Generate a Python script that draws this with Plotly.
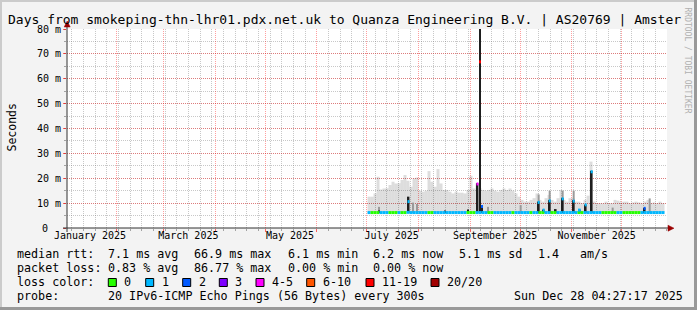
import plotly.graph_objects as go
import pandas as pd

# ---------------- data ----------------
axis_start = "2025-01-02 04:27:17"
axis_end = "2025-12-28 04:27:17"

# regular consolidated columns (1.8 days each) starting here
col_first = "2025-07-02 09:20"
col_hours = 43.2

# light smoke top (ms) per column
smoke_top = [12.6, 12.6, 13.9, 20.6, 15.5, 15.9, 16.0, 17.3, 18.6, 17.9,
             18.0, 19.3, 21.3, 19.0, 16.6, 19.9, 20.3, 15.0, 14.6, 15.0,
             22.9, 18.6, 16.6, 23.7, 17.9, 15.3, 15.3, 14.6, 13.9, 14.6,
             14.2, 14.2, 13.9, 15.3, 21.0, 15.9, 18.0, 16.0, 15.3, 15.0,
             15.3, 15.9, 15.0, 14.6, 15.3, 15.9, 15.3, 15.9, 15.0, 13.9,
             12.6, 11.3, 10.6, 10.6, 11.3, 12.0, 13.9, 11.3, 10.6, 12.0,
             13.3, 11.3, 10.6, 12.0, 15.3, 11.3, 10.6, 12.0, 12.0, 10.6,
             10.6, 10.0, 11.3, 13.0, 26.7, 10.6, 10.0, 10.0, 9.9, 10.6,
             10.0, 10.0, 11.3, 11.0, 10.3, 10.6, 10.6, 10.0, 10.3, 10.6,
             10.3, 10.0, 10.6, 11.3, 10.0, 10.3, 10.0, 10.6, 10.0]

# median rtt (ms) per column
median = [6.2, 6.2, 6.2, 6.2, 6.2, 6.2, 6.2, 6.2, 6.2, 6.2,
          6.2, 6.2, 6.2, 6.3, 6.2, 6.2, 6.2, 6.2, 6.2, 6.2,
          6.2, 6.2, 6.2, 6.2, 6.2, 6.2, 6.2, 6.2, 6.2, 6.2,
          6.2, 6.2, 6.2, 6.2, 6.2, 6.2, 6.2, 6.2, 6.2, 6.2,
          6.2, 6.2, 6.2, 6.2, 6.2, 6.2, 6.2, 6.2, 6.2, 6.2,
          6.2, 6.2, 6.2, 6.2, 6.2, 6.2, 6.2, 6.2, 6.2, 6.2,
          6.2, 6.2, 6.2, 6.2, 6.2, 6.2, 6.2, 6.2, 6.2, 6.2,
          6.2, 6.2, 6.2, 6.2, 6.2, 6.2, 6.2, 6.2, 6.2, 6.2,
          6.2, 6.2, 6.2, 6.2, 6.2, 6.2, 6.2, 6.2, 6.2, 6.2,
          6.2, 6.2, 6.2, 6.2, 6.2, 6.2, 6.2, 6.2, 6.2]

# lost pings (of 20) per column
loss = [1, 0, 0, 0, 1, 1, 1, 0, 0, 0,
        1, 0, 0, 1, 1, 1, 1, 1, 1, 1,
        0, 0, 1, 1, 1, 1, 1, 1, 1, 1,
        1, 1, 1, 0, 0, 0, 1, 1, 1, 1,
        0, 0, 1, 1, 1, 1, 1, 1, 0, 1,
        1, 1, 1, 1, 0, 1, 1, 0, 0, 1,
        1, 0, 0, 1, 1, 1, 1, 1, 1, 1,
        0, 0, 1, 1, 1, 1, 1, 1, 0, 0,
        0, 0, 0, 1, 1, 0, 0, 0, 0, 0,
        0, 1, 1, 1, 1, 1, 1, 1, 1]

# short events (dense smoke / jumps of the median)
spike_time = ["2025-07-08 09:00", "2025-07-26 02:00", "2025-07-28 19:00", "2025-07-31 04:30",
              "2025-08-17 00:00", "2025-08-30 19:00", "2025-09-05 11:45", "2025-09-06 23:50",
              "2025-09-08 04:30", "2025-09-11 19:00", "2025-10-01 09:20", "2025-10-12 04:30",
              "2025-10-15 04:30", "2025-10-18 19:00", "2025-10-22 09:20", "2025-10-26 14:10",
              "2025-11-02 04:30", "2025-11-05 19:00", "2025-11-09 09:20", "2025-11-12 23:50",
              "2025-11-25 14:10", "2025-12-14 19:00", "2025-12-17 19:00"]
spike_grey_top = [8.5, 10.0, 10.2, 9.6,
                  None, None, None, None,
                  None, 8.5, 9.2, 13.5,
                  None, 15.0, None, 15.0,
                  15.0, None, None, None,
                  8.2, None, 11.9]
spike_black_top = [7.0, 12.6, None, None,
                   7.0, 7.4, 18.0, 80.0,
                   8.8, None, None, 10.6,
                   7.4, 11.2, 7.6, 12.0,
                   11.2, 7.4, 9.4, 23.0,
                   None, 8.0, None]
spike_median = [None, 10.6, None, None,
                None, None, 17.7, 66.8,
                8.6, None, None, 10.3,
                7.2, 10.9, None, 11.7,
                10.8, 7.2, 9.3, 22.6,
                None, 7.9, None]
spike_loss = [None, 1, None, None,
              None, None, 5, 15,
              2, None, None, 1,
              1, 1, None, 1,
              1, 1, 1, 1,
              None, 2, None]
spike_floor = 6.0

y_ticks = [0, 10, 20, 30, 40, 50, 60, 70, 80]
y_labels = ["", "10 m", "20 m", "30 m", "40 m", "50 m", "60 m", "70 m", "80 m"]
y_zero_label = "0"
month_label_dates = ["2025-01-16", "2025-03-16", "2025-05-16", "2025-07-16", "2025-09-16", "2025-11-16"]
month_labels = ["January 2025", "March 2025", "May 2025", "July 2025", "September 2025", "November 2025"]

title_text = "Days from smokeping-thn-lhr01.pdx.net.uk to Quanza Engineering B.V. | AS20769 | Amster"
legend_rows = [
    [("median rtt:", 16), ("7.1 ms avg", 107.3), ("66.9 ms max", 193.3), ("6.1 ms min", 286.7),
     ("6.2 ms now", 372.3), ("5.1 ms sd", 458.3), ("1.4", 537.3), ("am/s", 579.3)],
    [("packet loss:", 16), ("0.83 % avg", 107.3), ("86.77 % max", 193.3), ("0.00 % min", 286.7),
     ("0.00 % now", 372.3)],
    [("loss color:", 16)],
    [("probe:", 16), ("20 IPv6-ICMP Echo Pings (56 Bytes) every 300s", 107.3),
     ("Sun Dec 28 04:27:17 2025", 513.3)],
]
loss_names = ["0", "1", "2", "3", "4-5", "6-10", "11-19", "20/20"]
loss_colors = ["#26ff00", "#00b8ff", "#0059ff", "#7e00ff", "#ff00ff", "#ff5500", "#ff0000", "#a10000"]
loss_limits = [0, 1, 2, 3, 5, 10, 19, 20]

# ---------------- layout constants ----------------
FW, FH = 697, 310
L, T, W, H = 67, 29, 600, 199
MONO = "DejaVu Sans Mono"
PX_MS = 0.6 * 86400000  # one pixel column in ms


def px(xp):
    return (xp - L) / W


def py(yp):
    return (T + H - yp) / H


def loss_color(n):
    for lim, c in zip(loss_limits, loss_colors):
        if n <= lim:
            return c
    return loss_colors[-1]


col_times = pd.date_range(col_first, periods=len(smoke_top), freq=pd.Timedelta(hours=col_hours))

fig = go.Figure()

# light smoke
fig.add_bar(x=col_times, y=[t - m for t, m in zip(smoke_top, median)], base=median,
            width=3 * PX_MS, marker=dict(color="rgba(0,0,0,0.135)", line=dict(width=0)),
            hoverinfo="skip")
# medium grey smoke of events
fig.add_bar(x=spike_time,
            y=[None if g is None else g - spike_floor for g in spike_grey_top],
            base=spike_floor, width=2 * PX_MS,
            marker=dict(color="#9a9a9a", line=dict(width=0)), hoverinfo="skip")
# dense (black) smoke of events
fig.add_bar(x=spike_time,
            y=[None if b is None else b - spike_floor for b in spike_black_top],
            base=spike_floor, width=1.8 * PX_MS,
            marker=dict(color="#1e1e1e", line=dict(width=0)), hoverinfo="skip")
# median line coloured by loss
fig.add_bar(x=col_times, y=[1.2] * len(median), base=[m - 0.6 for m in median],
            width=3 * PX_MS, marker=dict(color=[loss_color(n) for n in loss], line=dict(width=0)),
            hoverinfo="skip")
# median markers at events
fig.add_bar(x=spike_time, y=[None if m is None else 1.2 for m in spike_median],
            base=[None if m is None else m - 0.6 for m in spike_median], width=2 * PX_MS,
            marker=dict(color=[loss_color(n) if n is not None else "#000" for n in spike_loss],
                        line=dict(width=0)), hoverinfo="skip")
# dummy trace for label axis
fig.add_scatter(x=month_label_dates, y=[None] * len(month_label_dates), xaxis="x2",
                mode="markers", showlegend=False, hoverinfo="skip")

MAJ = "rgba(255,0,0,0.38)"
MIN = "rgba(110,110,110,0.38)"

fig.update_layout(
    width=FW, height=FH,
    margin=dict(l=L, r=FW - L - W, t=T, b=FH - T - H),
    paper_bgcolor="#f3f3f3", plot_bgcolor="#ffffff",
    showlegend=False, barmode="overlay",
    font=dict(family=MONO, color="#000000"),
    title=dict(text=title_text, x=8 / FW, xanchor="left", xref="container",
               y=1 - 19.5 / FH, yanchor="middle", yref="container",
               font=dict(family=MONO, size=13, color="#000000")),
    xaxis=dict(type="date", range=[axis_start, axis_end], tickmode="linear",
               tick0="2025-01-01", dtick="M1", showticklabels=False,
               ticks="outside", ticklen=3, tickcolor="rgba(255,0,0,0.6)", tickwidth=1,
               showgrid=True, gridcolor=MAJ, griddash="1px,1px", gridwidth=1,
               minor=dict(tick0="2025-01-05", dtick=7 * 86400000, showgrid=True,
                          gridcolor=MIN, griddash="1px,1px", ticks="outside", ticklen=2,
                          tickcolor="rgba(110,110,110,0.6)"),
               showline=False, zeroline=False, fixedrange=True),
    xaxis2=dict(type="date", range=[axis_start, axis_end], overlaying="x", side="bottom",
                anchor="y", tickmode="array", tickvals=month_label_dates, ticktext=month_labels,
                ticks="", showgrid=False, zeroline=False, showline=False,
                tickfont=dict(family=MONO, size=10, color="#000000")),
    yaxis=dict(range=[0, 80], tickmode="array", tickvals=y_ticks, ticktext=y_labels,
               ticks="outside", ticklen=3, tickcolor="rgba(255,0,0,0.6)",
               showgrid=True, gridcolor=MAJ, griddash="1px,1px", gridwidth=1,
               minor=dict(dtick=5, showgrid=True, gridcolor=MIN, griddash="1px,1px",
                          ticks="outside", ticklen=2, tickcolor="rgba(110,110,110,0.6)"),
               zeroline=False, showline=False,
               tickfont=dict(family=MONO, size=10, color="#000000")),
)

shapes = []
# frame shading
shapes.append(dict(type="rect", xref="paper", yref="paper", x0=px(0), x1=px(FW), y0=py(2), y1=py(0),
                   line=dict(width=0), fillcolor="#cbcbcb"))
shapes.append(dict(type="rect", xref="paper", yref="paper", x0=px(0), x1=px(2), y0=py(FH), y1=py(0),
                   line=dict(width=0), fillcolor="#cbcbcb"))
shapes.append(dict(type="rect", xref="paper", yref="paper", x0=px(FW - 3), x1=px(FW), y0=py(FH), y1=py(0),
                   line=dict(width=0), fillcolor="#999999"))
shapes.append(dict(type="rect", xref="paper", yref="paper", x0=px(0), x1=px(FW), y0=py(FH), y1=py(FH - 3),
                   line=dict(width=0), fillcolor="#999999"))
# axes
AX = "#303030"
shapes.append(dict(type="line", xref="paper", yref="paper", x0=px(67), x1=px(67), y0=py(232), y1=py(25),
                   line=dict(color=AX, width=1)))
shapes.append(dict(type="line", xref="paper", yref="paper", x0=px(63), x1=px(670), y0=py(228), y1=py(228),
                   line=dict(color=AX, width=1)))
ARW = "#9a0000"
shapes.append(dict(type="path", xref="paper", yref="paper",
                   path=f"M {px(64.2)} {py(27)} L {px(67.2)} {py(21)} L {px(70.2)} {py(27)} Z",
                   fillcolor=ARW, line=dict(color=ARW, width=0.5)))
shapes.append(dict(type="path", xref="paper", yref="paper",
                   path=f"M {px(668)} {py(225.2)} L {px(674)} {py(228.2)} L {px(668)} {py(231.2)} Z",
                   fillcolor=ARW, line=dict(color=ARW, width=0.5)))

annotations = []
# zero label of the y axis sits one column left like the other labels' digits
annotations.append(dict(text=y_zero_label, xref="paper", yref="y", x=px(44.5), y=y_ticks[0],
                        xanchor="center", yanchor="middle", showarrow=False,
                        font=dict(family=MONO, size=10, color="#000000"), borderpad=0))
row_y = [254, 268, 282, 296]
for row, yy in zip(legend_rows, row_y):
    for text, xx in row:
        annotations.append(dict(text=text, xref="paper", yref="paper", x=px(xx), y=py(yy),
                                xanchor="left", yanchor="middle", showarrow=False,
                                font=dict(family=MONO, size=11.7, color="#000000"), borderpad=0))
box_left = [108.3, 145.7, 182.7, 219.3, 256, 306.7, 366, 431]
for name, col, bx in zip(loss_names, loss_colors, box_left):
    shapes.append(dict(type="rect", xref="paper", yref="paper", x0=px(bx), x1=px(bx + 8),
                       y0=py(286.5), y1=py(278.5), fillcolor=col, line=dict(color="#000000", width=1)))
    annotations.append(dict(text=name, xref="paper", yref="paper", x=px(bx + 15), y=py(282),
                            xanchor="left", yanchor="middle", showarrow=False,
                            font=dict(family=MONO, size=11.7, color="#000000"), borderpad=0))
annotations.append(dict(text="Seconds", xref="paper", yref="paper", x=px(11.5), y=py(128),
                        xanchor="center", yanchor="middle", textangle=-90, showarrow=False,
                        font=dict(family=MONO, size=11.5, color="#000000"), borderpad=0))
annotations.append(dict(text="RRDTOOL / TOBI OETIKER", xref="paper", yref="paper", x=px(687.5), y=py(60),
                        xanchor="center", yanchor="middle", textangle=90, showarrow=False,
                        font=dict(family=MONO, size=8, color="#b0b0b0"), borderpad=0))

fig.update_layout(shapes=shapes, annotations=annotations)
fig.write_html("out.html")
